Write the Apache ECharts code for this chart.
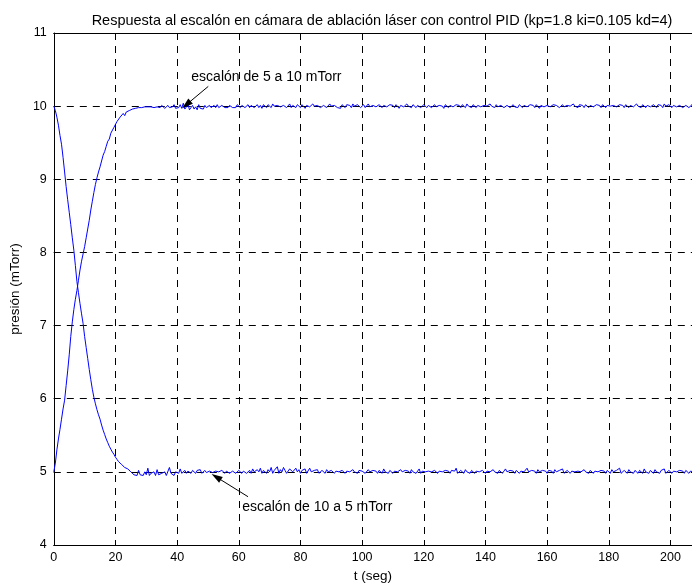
<!DOCTYPE html>
<html>
<head>
<meta charset="utf-8">
<script src="https://cdn.jsdelivr.net/npm/echarts@6/dist/echarts.min.js"></script>
<style>
  html, body { margin: 0; padding: 0; background: #fff; }
  #chart { width: 692px; height: 588px; }
</style>
</head>
<body>
<div id="chart"></div>
<script>
// Sampling period of the recorded pressure (s)
const DT = 0.5;

// Pressure (mTorr), step from 5 to 10 mTorr; one row = 10 s
const subida = [
  5.00, 5.12, 5.30, 5.45, 5.58, 5.72, 5.86, 5.98, 6.18, 6.38, 6.60, 6.85, 7.05, 7.22, 7.36, 7.48, 7.62, 7.76, 7.88, 7.98,
  8.08, 8.20, 8.32, 8.44, 8.58, 8.70, 8.82, 8.93, 9.02, 9.10, 9.17, 9.25, 9.33, 9.38, 9.45, 9.52, 9.55, 9.63, 9.64, 9.71,
  9.72, 9.79, 9.78, 9.85, 9.84, 9.90, 9.87, 9.92, 9.91, 9.94, 9.93, 9.96, 9.94, 9.97, 9.95, 9.98, 9.96, 9.98, 9.96, 9.99,
  9.98, 9.99, 9.97, 9.99, 10.00, 9.98, 9.97, 9.99, 10.00, 9.98, 10.01, 9.99, 9.97, 9.99, 10.01, 9.98, 9.97, 9.99, 10.02, 9.97,
  9.99, 9.98, 10.02, 9.97, 10.04, 9.96, 9.99, 10.03, 9.95, 9.98, 10.01, 9.96, 9.99, 9.95, 10.02, 9.97, 9.99, 9.96, 10.01, 9.98,
  9.97, 10.01, 9.98, 9.97, 10.01, 9.98, 10.02, 9.98, 9.97, 10.01, 10.02, 9.98, 10.00, 9.98, 10.01, 10.02, 9.98, 10.00, 9.98, 10.02,
  10.00, 9.98, 10.01, 10.02, 9.98, 10.00, 10.02, 9.98, 10.01, 10.03, 9.98, 10.00, 10.02, 9.98, 10.01, 9.97, 10.02, 10.00, 9.98, 10.02,
  10.00, 9.98, 10.03, 10.00, 9.98, 10.01, 10.02, 9.99, 9.97, 10.01, 10.02, 9.98, 10.00, 10.03, 9.98, 10.01, 10.00, 9.98, 10.02, 10.00,
  9.98, 10.02, 10.00, 9.97, 10.01, 10.02, 9.99, 9.98, 10.03, 10.00, 9.98, 10.01, 10.02, 9.98, 10.00, 10.01, 10.02, 9.98, 10.00, 10.03,
  10.00, 9.98, 10.01, 10.02, 9.98, 10.00, 9.97, 10.02, 10.00, 9.98, 10.02, 10.00, 10.01, 9.98, 10.03, 10.00, 9.98, 10.02, 10.00, 9.98,
  10.00, 10.02, 9.98, 10.00, 10.03, 9.99, 9.98, 10.01, 10.02, 9.99, 9.98, 10.02, 10.00, 9.98, 10.01, 10.03, 9.99, 9.98, 10.02, 10.00,
  10.01, 9.98, 10.02, 10.00, 9.97, 10.01, 10.02, 9.99, 9.98, 10.03, 10.00, 10.01, 9.98, 10.02, 10.00, 9.98, 10.01, 10.02, 9.98, 10.00,
  10.02, 10.00, 9.98, 10.01, 10.03, 9.98, 10.00, 10.02, 9.99, 9.98, 10.01, 10.02, 10.00, 9.97, 10.02, 10.00, 9.98, 10.01, 10.03, 9.99,
  9.98, 10.02, 10.00, 10.01, 9.98, 10.02, 10.00, 9.98, 10.03, 10.00, 10.01, 9.98, 10.02, 10.00, 9.98, 10.01, 10.02, 9.99, 9.98, 10.01,
  10.02, 10.00, 9.98, 10.03, 10.00, 10.01, 9.98, 10.02, 9.99, 9.98, 10.01, 10.02, 9.98, 10.00, 10.01, 10.03, 9.98, 10.00, 10.02, 9.99,
  10.01, 9.98, 10.02, 10.00, 9.98, 10.01, 10.03, 9.99, 9.98, 10.02, 10.00, 10.01, 9.98, 10.02, 10.00, 9.97, 10.01, 10.02, 9.99, 9.98,
  10.01, 10.02, 9.99, 9.98, 10.02, 10.00, 10.01, 10.03, 9.98, 10.00, 10.02, 9.99, 9.98, 10.01, 10.02, 10.00, 9.98, 10.03, 10.00, 10.01,
  9.98, 10.02, 10.00, 10.01, 9.98, 10.02, 10.00, 9.98, 10.01, 10.03, 9.99, 9.98, 10.02, 10.00, 10.01, 9.98, 10.02, 10.00, 9.98, 10.01,
  10.02, 10.00, 9.98, 10.01, 10.03, 9.99, 9.98, 10.02, 10.00, 10.01, 9.98, 10.02, 10.00, 9.98, 10.01, 10.02, 9.99, 9.98, 10.03, 10.00,
  10.01, 9.98, 10.02, 10.00, 9.98, 10.01, 10.02, 9.99, 9.97, 10.02, 10.00, 9.98, 10.02, 10.00, 10.01, 9.98, 10.03, 10.00, 9.98, 10.02,
  10.00, 9.98, 10.01, 10.02, 9.99, 9.98, 10.01, 10.02, 9.98, 10.00, 10.01, 10.02, 9.98, 10.00, 10.02, 9.99, 9.98, 10.01, 10.02, 10.00
];

// Pressure (mTorr), step from 10 to 5 mTorr; one row = 10 s
const bajada = [
  10.00, 9.94, 9.85, 9.74, 9.60, 9.48, 9.30, 9.10, 8.90, 8.72, 8.55, 8.38, 8.20, 8.03, 7.82, 7.60, 7.45, 7.30, 7.16, 7.03,
  6.85, 6.70, 6.55, 6.40, 6.26, 6.13, 6.02, 5.93, 5.85, 5.78, 5.72, 5.64, 5.57, 5.51, 5.45, 5.40, 5.35, 5.31, 5.27, 5.24,
  5.20, 5.17, 5.14, 5.12, 5.10, 5.08, 5.06, 5.05, 5.04, 5.02, 5.00, 4.98, 4.96, 4.98, 4.95, 5.02, 4.96, 4.98, 4.95, 5.00,
  4.96, 5.05, 4.95, 4.98, 4.96, 5.00, 4.95, 5.03, 4.96, 4.95, 4.98, 4.96, 5.00, 4.95, 4.97, 5.06, 4.98, 4.96, 4.95, 5.00,
  5.01, 4.98, 5.04, 4.98, 5.00, 5.02, 4.98, 5.01, 5.03, 4.98, 5.02, 5.00, 4.98, 5.02, 5.00, 5.03, 4.98, 5.00, 5.02, 4.99,
  4.98, 5.01, 5.02, 4.99, 4.98, 5.01, 5.03, 5.00, 4.98, 5.02, 5.00, 4.98, 5.01, 5.02, 4.98, 5.00, 5.01, 5.02, 4.98, 5.00,
  5.02, 5.00, 4.98, 5.01, 5.03, 4.98, 5.00, 5.02, 4.98, 5.04, 5.00, 4.98, 5.03, 5.00, 5.05, 4.98, 5.02, 5.00, 4.98, 5.03,
  5.00, 5.06, 4.98, 5.02, 5.00, 5.07, 4.98, 5.03, 5.00, 5.06, 5.02, 4.98, 5.00, 5.04, 5.02, 5.00, 4.98, 5.05, 5.00, 5.03,
  4.98, 5.02, 5.00, 5.04, 4.98, 5.00, 5.05, 5.00, 4.98, 5.02, 5.00, 5.03, 4.98, 5.00, 5.02, 5.00, 4.98, 5.03, 5.00, 4.98,
  5.02, 5.00, 4.98, 5.01, 5.03, 5.00, 4.98, 5.02, 5.00, 4.98, 5.01, 5.02, 5.00, 4.98, 5.03, 5.00, 5.01, 4.98, 5.02, 5.00,
  5.01, 5.02, 4.98, 5.00, 5.03, 5.00, 4.98, 5.02, 5.00, 5.01, 4.98, 5.02, 5.00, 4.98, 5.04, 5.00, 5.01, 4.98, 5.02, 5.00,
  4.98, 5.01, 5.02, 5.00, 4.98, 5.03, 5.00, 4.98, 5.02, 5.00, 5.01, 4.98, 5.03, 5.00, 5.02, 4.98, 5.00, 5.04, 4.98, 5.01,
  5.02, 5.00, 4.98, 5.01, 5.03, 5.00, 4.98, 5.02, 5.00, 4.98, 5.01, 5.03, 5.00, 4.98, 5.02, 5.00, 5.01, 4.98, 5.02, 5.00,
  5.01, 5.05, 4.98, 5.00, 5.02, 5.00, 4.98, 5.03, 5.00, 5.01, 4.98, 5.02, 5.00, 4.98, 5.01, 5.03, 5.00, 4.98, 5.02, 5.00,
  4.98, 5.01, 5.02, 5.00, 4.98, 5.03, 5.00, 5.01, 4.98, 5.02, 5.00, 4.98, 5.01, 5.04, 5.00, 4.98, 5.02, 5.00, 5.01, 4.98,
  5.02, 5.00, 4.98, 5.01, 5.03, 5.00, 4.98, 5.05, 5.00, 4.98, 5.02, 5.00, 5.01, 4.98, 5.03, 5.00, 4.98, 5.02, 5.00, 5.01,
  4.98, 5.02, 5.00, 5.01, 4.98, 5.03, 5.00, 4.98, 5.02, 5.00, 5.04, 4.98, 5.00, 5.02, 5.00, 4.98, 5.01, 5.03, 5.00, 4.98,
  5.01, 5.02, 5.00, 4.98, 5.03, 5.00, 5.01, 4.98, 5.02, 5.00, 4.98, 5.01, 5.03, 5.00, 4.98, 5.02, 5.00, 5.01, 4.98, 5.02,
  5.00, 4.98, 5.03, 5.00, 4.98, 5.02, 5.00, 5.05, 4.98, 5.00, 5.02, 5.00, 4.98, 5.03, 5.00, 5.01, 4.98, 5.02, 5.00, 4.98,
  5.02, 5.00, 4.98, 5.04, 5.00, 5.01, 4.98, 5.02, 5.00, 4.98, 5.03, 5.00, 5.01, 4.98, 5.02, 5.00, 5.04, 4.98, 5.00, 5.02,
  5.00, 4.98, 5.01, 5.03, 5.00, 4.98, 5.02, 5.00, 5.01, 4.98, 5.02, 5.00, 4.98, 5.01, 5.03, 5.00, 4.98, 5.02, 5.00, 5.01
];

// Axis ticks
const ticksT = [0, 20, 40, 60, 80, 100, 120, 140, 160, 180, 200];
const ticksP = [4, 5, 6, 7, 8, 9, 10, 11];
const T_END = 207;

const FONT = '"Liberation Sans", Arial, Helvetica, sans-serif';
const toPairs = arr => arr.map((p, i) => [i * DT, p]);

const chart = echarts.init(document.getElementById('chart'), null, { renderer: 'canvas' });

const tickStep = ticksT[1] - ticksT[0];
const axisLineStyle = { color: '#000', width: 1 };
const dashed = { color: '#000', width: 1, type: [7, 6] };

const arrowStyle = {
  silent: true,
  symbol: ['none', 'triangle'],
  symbolSize: [7, 11],
  lineStyle: { color: '#000', width: 1, type: 'solid' },
  itemStyle: { color: '#000' },
  label: { show: false },
  emphasis: { disabled: true }
};

chart.setOption({
  animation: false,
  backgroundColor: '#fff',
  title: {
    text: 'Respuesta al escalón en cámara de ablación láser con control PID (kp=1.8 ki=0.105 kd=4)',
    left: 377,
    top: 8,
    textAlign: 'center',
    textStyle: { fontFamily: FONT, fontSize: 14.5, fontWeight: 'normal', color: '#000' }
  },
  grid: { left: 52, right: -1, top: 33, bottom: 42 },
  xAxis: [
    {
      type: 'value',
      position: 'bottom',
      min: ticksT[0],
      max: T_END,
      interval: tickStep,
      name: 't (seg)',
      nameLocation: 'middle',
      nameGap: 24,
      nameTextStyle: { fontFamily: FONT, fontSize: 13.5, color: '#000' },
      axisLine: { show: true, onZero: false, lineStyle: axisLineStyle },
      axisTick: { show: true, inside: true, length: 5, lineStyle: axisLineStyle },
      axisLabel: {
        margin: 6,
        fontFamily: FONT, fontSize: 12.5, color: '#000',
        showMaxLabel: false,
        formatter: v => (ticksT.includes(v) ? String(v) : '')
      },
      splitLine: { show: true, lineStyle: dashed }
    },
    {
      type: 'value',
      position: 'top',
      min: ticksT[0],
      max: T_END,
      interval: tickStep,
      axisLine: { show: true, onZero: false, lineStyle: axisLineStyle },
      axisTick: { show: true, inside: true, length: 5, lineStyle: axisLineStyle },
      axisLabel: { show: false },
      splitLine: { show: false }
    }
  ],
  yAxis: [
    {
      type: 'value',
      position: 'left',
      min: ticksP[0],
      max: ticksP[ticksP.length - 1],
      interval: ticksP[1] - ticksP[0],
      name: 'presión (mTorr)',
      nameLocation: 'middle',
      nameGap: 26,
      nameRotate: 90,
      nameTextStyle: { fontFamily: FONT, fontSize: 13.5, color: '#000' },
      axisLine: { show: true, onZero: false, lineStyle: axisLineStyle },
      axisTick: { show: true, inside: true, length: 5, lineStyle: axisLineStyle },
      axisLabel: { margin: 7, fontFamily: FONT, fontSize: 12.5, color: '#000' },
      splitLine: { show: true, lineStyle: dashed }
    }
  ],
  series: [
    {
      name: 'escalón 5→10',
      type: 'line',
      xAxisIndex: 0,
      data: toPairs(subida),
      showSymbol: false,
      lineStyle: { color: '#0000ff', width: 1 },
      itemStyle: { color: '#0000ff' },
      emphasis: { disabled: true },
      markLine: Object.assign({}, arrowStyle, {
        data: [[{ coord: [50.1, 10.27] }, { coord: [43.0, 10.02] }]]
      })
    },
    {
      name: 'escalón 10→5',
      type: 'line',
      xAxisIndex: 0,
      data: toPairs(bajada),
      showSymbol: false,
      lineStyle: { color: '#0000ff', width: 1 },
      itemStyle: { color: '#0000ff' },
      emphasis: { disabled: true },
      markLine: Object.assign({}, arrowStyle, {
        data: [[{ coord: [63.0, 4.66] }, { coord: [52.7, 4.93] }]]
      })
    }
  ]
});

// Annotation texts anchored in data coordinates
const notes = [
  { text: 'escalón de 5 a 10 mTorr', at: [44.6, 10.39] },
  { text: 'escalón de 10 a 5 mTorr', at: [61.1, 4.52] }
];
chart.setOption({
  graphic: notes.map(n => {
    const p = chart.convertToPixel({ gridIndex: 0 }, n.at);
    return {
      type: 'text',
      x: p[0],
      y: p[1],
      silent: true,
      style: {
        text: n.text,
        fill: '#000',
        font: '14px ' + FONT,
        textAlign: 'left',
        textVerticalAlign: 'middle'
      }
    };
  })
});
</script>
</body>
</html>
